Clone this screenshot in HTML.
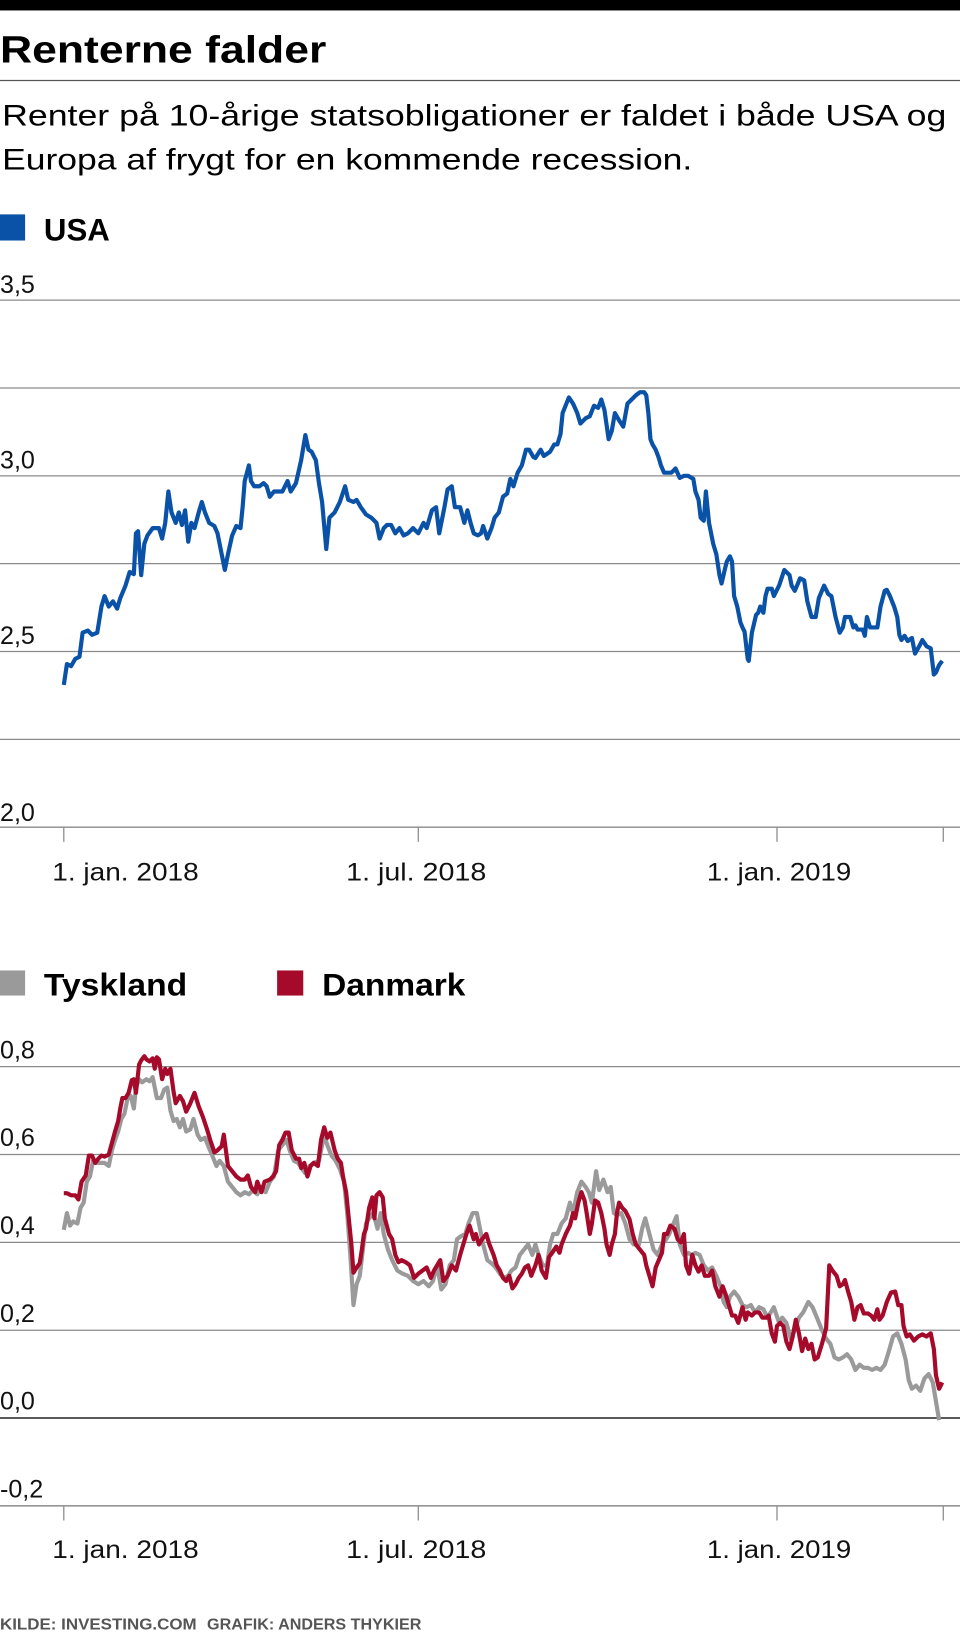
<!DOCTYPE html>
<html><head><meta charset="utf-8"><style>html,body{margin:0;padding:0;background:#fff}svg{display:block}</style></head><body>
<svg width="960" height="1640" viewBox="0 0 918 1568.25" xmlns="http://www.w3.org/2000/svg" font-family="Liberation Sans, sans-serif">
<rect x="0" y="0" width="918" height="10" fill="#000"/>
<text x="0" y="60" font-size="36" font-weight="bold" textLength="312" lengthAdjust="spacingAndGlyphs">Renterne falder</text>
<line x1="0" y1="77" x2="918" y2="77" stroke="#555" stroke-width="1.2"/>
<text x="2" y="120" font-size="28" textLength="903" lengthAdjust="spacingAndGlyphs">Renter på 10-årige statsobligationer er faldet i både USA og</text>
<text x="2" y="162" font-size="28" textLength="660" lengthAdjust="spacingAndGlyphs">Europa af frygt for en kommende recession.</text>
<rect x="0" y="205" width="24" height="25" fill="#0a52a8"/>
<text x="42" y="230" font-size="30" font-weight="bold" textLength="63" lengthAdjust="spacingAndGlyphs">USA</text>
<g stroke="#8a8a8a" stroke-width="1.2">
<line x1="0" y1="287" x2="918" y2="287"/><line x1="0" y1="371" x2="918" y2="371"/><line x1="0" y1="455" x2="918" y2="455"/><line x1="0" y1="539" x2="918" y2="539"/><line x1="0" y1="623" x2="918" y2="623"/><line x1="0" y1="707" x2="918" y2="707"/><line x1="0" y1="791" x2="918" y2="791"/>
<line x1="61" y1="791" x2="61" y2="805"/><line x1="400" y1="791" x2="400" y2="805"/><line x1="743" y1="791" x2="743" y2="805"/><line x1="902" y1="791" x2="902" y2="805"/>
</g>
<g font-size="24" fill="#111">
<text x="0" y="280">3,5</text><text x="0" y="448">3,0</text><text x="0" y="616">2,5</text><text x="0" y="785">2,0</text>
<text x="120" y="842" text-anchor="middle" textLength="140" lengthAdjust="spacingAndGlyphs">1. jan. 2018</text>
<text x="398" y="842" text-anchor="middle" textLength="134" lengthAdjust="spacingAndGlyphs">1. jul. 2018</text>
<text x="745" y="842" text-anchor="middle" textLength="138" lengthAdjust="spacingAndGlyphs">1. jan. 2019</text>
</g>
<polyline fill="none" stroke="#0a52a8" stroke-width="4" stroke-linejoin="round" points="61,655 64,635 68,637 72,630 76,628 79,605 84,603 88,607 93,605 97,580 100,570 104,580 108,575 112,582 115,572 120,560 124,547 128,549 130,510 132,508 135,550 138,520 141,512 146,505 152,505 155,515 158,500 161,470 164,490 168,500 171,490 174,502 177,488 180,518 183,500 186,505 190,490 193,480 196,490 200,500 205,503 208,510 212,530 215,545 218,530 222,512 226,503 230,505 232,485 234,460 238,445 240,460 243,465 248,465 252,462 255,465 258,475 262,470 265,470 270,470 275,460 278,470 283,462 288,440 292,416 295,430 298,432 302,440 305,462 308,480 312,525 315,495 320,490 325,480 330,465 333,478 338,480 341,478 345,485 350,492 355,495 360,500 363,515 367,505 370,502 374,502 378,510 382,505 386,512 390,510 395,505 400,510 405,500 408,505 413,488 417,485 420,510 425,485 428,468 432,465 435,485 440,485 444,500 447,488 450,500 453,510 457,512 460,510 462,503 466,515 470,505 473,495 477,490 481,475 485,472 488,458 491,465 495,452 499,445 503,430 506,430 510,437 512,438 517,430 520,436 526,432 530,425 533,425 536,415 538,395 540,390 544,380 548,386 552,395 555,405 560,400 564,398 568,388 572,390 575,382 578,392 582,420 585,412 588,395 592,402 596,408 600,386 604,382 608,378 612,375 616,375 618,378 620,395 622,420 624,425 627,430 630,438 632,445 635,452 638,452 642,452 646,448 650,457 654,455 658,455 663,458 665,470 668,478 670,495 673,498 675,470 678,500 682,520 685,530 688,550 690,558 693,545 695,537 698,532 700,537 702,570 705,580 708,595 710,600 712,604 715,630 716,632 719,605 723,588 725,586 727,580 730,586 732,570 734,563 738,563 740,570 745,560 750,545 755,550 757,560 760,565 763,558 765,553 769,555 772,575 776,590 780,590 783,572 788,560 792,568 795,570 799,590 803,605 806,600 808,590 813,590 816,600 818,598 820,602 825,602 827,608 829,590 832,600 836,600 839,600 842,580 846,565 848,564 851,570 855,580 858,590 860,607 862,612 865,608 868,613 872,610 875,625 879,618 882,612 886,618 890,620 893,645 895,643 898,636 901,632"/>
<rect x="0" y="928" width="24" height="24" fill="#9a9a9a"/>
<text x="42" y="952" font-size="30" font-weight="bold" textLength="137" lengthAdjust="spacingAndGlyphs">Tyskland</text>
<rect x="265" y="928" width="25" height="24" fill="#a50a2a"/>
<text x="308" y="952" font-size="30" font-weight="bold" textLength="137" lengthAdjust="spacingAndGlyphs">Danmark</text>
<g stroke="#8a8a8a" stroke-width="1.2">
<line x1="0" y1="1020" x2="918" y2="1020"/><line x1="0" y1="1104" x2="918" y2="1104"/><line x1="0" y1="1188" x2="918" y2="1188"/><line x1="0" y1="1272" x2="918" y2="1272"/><line x1="0" y1="1440" x2="918" y2="1440" stroke="#777"/>
<line x1="61" y1="1440" x2="61" y2="1454"/><line x1="400" y1="1440" x2="400" y2="1454"/><line x1="743" y1="1440" x2="743" y2="1454"/><line x1="902" y1="1440" x2="902" y2="1454"/>
</g>
<line x1="0" y1="1356" x2="918" y2="1356" stroke="#222" stroke-width="1.4"/>
<g font-size="24" fill="#111">
<text x="0" y="1012">0,8</text><text x="0" y="1096">0,6</text><text x="0" y="1180">0,4</text><text x="0" y="1264">0,2</text><text x="0" y="1348">0,0</text><text x="0" y="1432">-0,2</text>
<text x="120" y="1490" text-anchor="middle" textLength="140" lengthAdjust="spacingAndGlyphs">1. jan. 2018</text>
<text x="398" y="1490" text-anchor="middle" textLength="134" lengthAdjust="spacingAndGlyphs">1. jul. 2018</text>
<text x="745" y="1490" text-anchor="middle" textLength="138" lengthAdjust="spacingAndGlyphs">1. jan. 2019</text>
</g>
<polyline fill="none" stroke="#9a9a9a" stroke-width="4" stroke-linejoin="round" points="61,1176 64,1160 67,1172 70,1168 74,1170 77,1155 80,1150 83,1130 86,1125 89,1110 92,1112 96,1112 100,1112 104,1115 107,1100 110,1090 113,1082 116,1070 119,1065 122,1050 125,1048 128,1060 130,1040 133,1032 136,1035 140,1032 143,1034 146,1030 148,1040 150,1050 154,1050 157,1042 160,1040 163,1062 166,1072 169,1070 172,1078 175,1070 178,1082 182,1080 185,1070 189,1085 192,1090 196,1088 200,1098 203,1105 207,1115 210,1110 214,1115 218,1130 222,1135 226,1140 230,1143 234,1140 238,1142 242,1138 246,1142 250,1135 254,1140 258,1130 262,1125 266,1100 270,1095 274,1090 277,1100 281,1110 285,1112 289,1118 292,1122 296,1115 300,1112 305,1110 310,1085 313,1095 317,1105 321,1110 325,1118 329,1130 332,1160 335,1200 338,1248 341,1228 344,1220 347,1195 350,1170 353,1165 357,1160 361,1175 364,1160 367,1180 371,1195 375,1205 380,1215 385,1218 390,1220 395,1225 400,1228 405,1225 410,1230 414,1225 418,1210 422,1233 426,1228 430,1210 434,1205 437,1185 441,1182 445,1180 448,1170 452,1160 456,1160 459,1175 462,1190 466,1205 470,1208 474,1212 478,1218 482,1222 486,1220 489,1215 493,1212 497,1200 501,1195 505,1190 509,1200 512,1190 515,1200 519,1210 523,1210 526,1190 529,1180 533,1180 537,1170 541,1165 545,1150 548,1160 552,1140 556,1130 560,1135 563,1140 566,1150 570,1120 573,1138 577,1128 581,1140 584,1135 587,1160 590,1162 594,1160 598,1170 602,1185 606,1190 611,1190 614,1175 617,1165 621,1180 625,1195 629,1200 633,1190 637,1185 640,1180 644,1170 647,1163 650,1190 654,1200 658,1198 661,1200 665,1198 669,1200 673,1210 677,1215 681,1212 685,1220 689,1230 692,1245 695,1250 698,1240 702,1235 706,1240 710,1248 714,1250 718,1248 722,1255 726,1250 730,1252 734,1260 737,1255 740,1250 745,1265 748,1260 752,1265 756,1280 760,1272 764,1260 768,1255 773,1245 777,1250 782,1262 786,1272 790,1280 794,1285 798,1298 802,1300 806,1298 810,1295 814,1300 818,1310 822,1305 826,1308 830,1308 834,1310 838,1308 842,1310 846,1305 850,1292 854,1278 858,1275 862,1285 866,1300 869,1320 872,1328 876,1325 880,1330 884,1318 888,1314 892,1322 895,1340 898,1358"/>
<polyline fill="none" stroke="#a50a2a" stroke-width="4" stroke-linejoin="round" points="61,1141 64,1141 68,1143 72,1143 75,1147 78,1130 82,1124 85,1105 88,1105 91,1112 94,1108 97,1105 100,1106 104,1104 107,1093 110,1082 113,1072 115,1060 117,1050 120,1050 123,1045 126,1033 128,1032 130,1045 133,1018 135,1014 138,1010 140,1013 143,1015 146,1012 148,1022 150,1011 152,1013 155,1032 158,1022 160,1027 163,1022 166,1044 168,1055 172,1048 175,1053 178,1063 182,1055 186,1045 190,1058 194,1068 198,1080 201,1090 205,1102 208,1100 212,1096 214,1085 218,1115 222,1120 226,1125 230,1128 234,1128 237,1124 240,1135 244,1140 246,1130 250,1140 253,1130 258,1128 261,1125 264,1120 267,1095 270,1090 273,1083 276,1083 279,1100 283,1108 286,1108 288,1117 291,1112 294,1125 297,1115 300,1112 304,1115 307,1090 310,1078 313,1088 316,1083 320,1100 323,1108 326,1112 328,1125 331,1140 333,1160 336,1190 338,1217 341,1212 344,1208 346,1195 348,1180 350,1175 353,1155 356,1145 358,1165 360,1143 363,1140 366,1145 368,1165 372,1180 375,1185 378,1200 381,1207 384,1205 388,1207 392,1210 396,1222 400,1218 404,1215 408,1212 412,1222 415,1215 418,1210 421,1205 424,1225 428,1220 432,1210 436,1215 440,1200 443,1190 446,1180 449,1172 453,1185 455,1180 458,1190 461,1185 465,1180 468,1190 472,1200 475,1210 478,1215 481,1222 484,1225 487,1220 490,1232 493,1228 496,1222 499,1218 502,1212 505,1210 508,1220 512,1210 515,1200 518,1215 522,1222 525,1202 528,1198 532,1192 535,1198 537,1190 541,1180 545,1172 548,1160 550,1165 553,1150 556,1140 559,1148 561,1160 564,1180 566,1170 569,1148 572,1150 575,1160 578,1175 580,1190 583,1200 585,1190 588,1180 590,1160 592,1150 595,1155 598,1158 602,1166 605,1180 608,1190 612,1195 616,1200 618,1210 621,1220 624,1230 627,1212 630,1205 633,1198 635,1180 638,1180 641,1172 645,1175 648,1185 651,1188 654,1180 656,1210 659,1218 662,1200 665,1210 668,1216 671,1210 674,1220 678,1220 681,1215 684,1230 688,1240 691,1230 694,1238 697,1248 700,1258 703,1258 706,1265 710,1250 713,1262 715,1255 719,1258 722,1255 726,1255 729,1260 733,1260 735,1258 738,1275 741,1283 743,1268 746,1265 749,1268 752,1283 755,1290 758,1278 761,1262 764,1275 767,1292 770,1280 773,1290 776,1285 779,1300 782,1298 786,1285 790,1270 793,1210 796,1215 800,1220 803,1230 806,1228 808,1224 811,1235 814,1245 817,1262 820,1250 823,1248 826,1256 830,1256 833,1258 836,1262 839,1252 841,1262 844,1258 848,1245 852,1236 856,1235 859,1248 862,1248 864,1268 867,1278 870,1276 874,1282 878,1278 882,1276 886,1278 890,1275 893,1290 895,1315 898,1328 901,1322"/>
<text x="0" y="1558" font-size="15" font-weight="bold" fill="#555" textLength="188" lengthAdjust="spacingAndGlyphs">KILDE: INVESTING.COM</text>
<text x="198" y="1558" font-size="15" font-weight="bold" fill="#555" textLength="205" lengthAdjust="spacingAndGlyphs">GRAFIK: ANDERS THYKIER</text>
</svg>
</body></html>
